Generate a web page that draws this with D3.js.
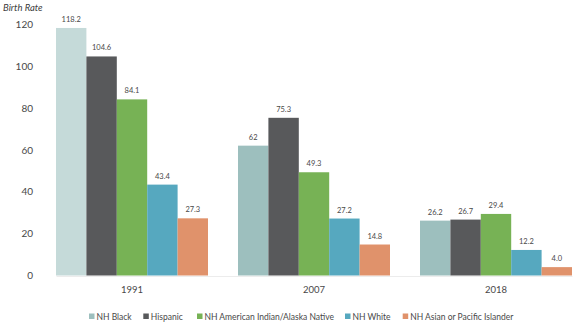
<!DOCTYPE html>
<html><head><meta charset="utf-8">
<script src="https://cdn.jsdelivr.net/npm/d3@7"></script>
<style>body{margin:0;background:#fff;}svg{display:block;font-family:Lato,"Open Sans",sans-serif;}</style>
</head><body><svg id="c" width="576" height="326"></svg>
<script>
const years = ["1991","2007","2018"];
const seriesNames = ["NH Black","Hispanic","NH American Indian/Alaska Native","NH White","NH Asian or Pacific Islander"];
const nhBlack = [118.2, 62, 26.2];
const hispanic = [104.6, 75.3, 26.7];
const nhAIAN = [84.1, 49.3, 29.4];
const nhWhite = [43.4, 27.2, 12.2];
const nhAPI = [27.3, 14.8, 4.0];
const valueLabels = [["118.2","62","26.2"],["104.6","75.3","26.7"],["84.1","49.3","29.4"],["43.4","27.2","12.2"],["27.3","14.8","4.0"]];
const yTicks = [0,20,40,60,80,100,120];

const seriesValues = [nhBlack, hispanic, nhAIAN, nhWhite, nhAPI];
const colors = ["#9dbfbe","#58595b","#77b255","#56a8bf","#e0926b"];
const firstBlackColor = "#c5dad9";

const svg = d3.select("#c");
const y = d3.scaleLinear().domain([0,120]).range([275.5,24.2]);
const x0 = d3.scaleBand().domain(years).range([56,572]).paddingInner(30/182).paddingOuter(0);
const x1 = d3.scaleBand().domain(seriesNames).range([0,x0.bandwidth()]).padding(0);

const yAxis = d3.axisLeft(y).tickValues(yTicks).tickSize(0).tickPadding(0);
const ga = svg.append("g").attr("transform","translate(33,0)").call(yAxis);
ga.select(".domain").remove();
ga.selectAll("text").attr("font-size",10).attr("fill","#484848").attr("font-family","Lato,sans-serif");

svg.append("text").attr("x",3).attr("y",11).attr("font-size",9.5).attr("font-style","italic").attr("fill","#404040").text("Birth Rate");

years.forEach((yr,yi)=>{
  const g = svg.append("g").attr("transform",`translate(${x0(yr)},0)`);
  seriesNames.forEach((s,si)=>{
    const v = seriesValues[si][yi];
    g.append("rect").attr("x",x1(s)).attr("width",x1.bandwidth()).attr("y",y(v)).attr("height",y(0)-y(v))
      .attr("fill", (si===0 && yi===0) ? firstBlackColor : colors[si]);
    g.append("text").attr("x",x1(s)+x1.bandwidth()/2).attr("y",y(v)-6).attr("text-anchor","middle")
      .attr("font-size",7.5).attr("fill","#484848").text(valueLabels[si][yi]);
  });
});

const xAxis = d3.axisBottom(x0).tickSize(0).tickPadding(0);
const gx = svg.append("g").attr("transform","translate(0,276)").call(xAxis);
gx.select(".domain").attr("stroke","#ececec");
gx.selectAll("text").attr("dy","1.75em").attr("font-size",9.5).attr("fill","#484848").attr("font-family","Lato,sans-serif");

const legendX = [89,143.3,197,345,402.7];
const lg = svg.append("g");
seriesNames.forEach((s,i)=>{
  lg.append("rect").attr("x",legendX[i]).attr("y",313.5).attr("width",5.5).attr("height",5.5).attr("fill",colors[i]);
  lg.append("text").attr("x",legendX[i]+7.5).attr("y",319.5).attr("font-size",8.5).attr("fill","#484848").text(s);
});
</script></body></html>
